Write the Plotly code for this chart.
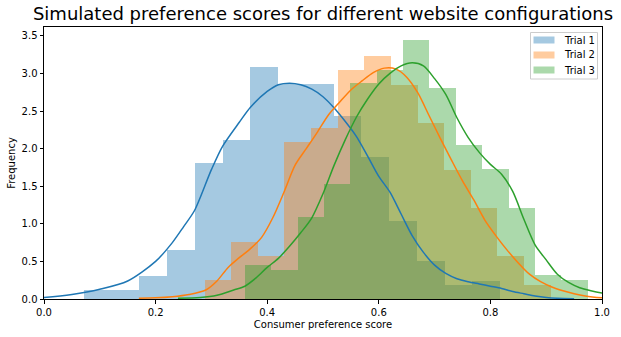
import plotly.graph_objects as go

# ---------------- data ----------------
trial_names = ["Trial 1", "Trial 2", "Trial 3"]

# histogram bin edges (density-normalised histograms)
t1_edges = [0.0717, 0.1214, 0.1711, 0.2208, 0.2705, 0.3202, 0.3699, 0.4196, 0.4693,
            0.5190, 0.5687, 0.6184, 0.6681, 0.7178, 0.7675, 0.8172]
t1_heights = [0.12, 0.12, 0.30, 0.65, 1.81, 2.12, 3.09, 2.86, 2.86, 2.43, 1.89, 1.04,
              0.50, 0.19, 0.24]

t2_edges = [0.2878, 0.3355, 0.3832, 0.4309, 0.4786, 0.5263, 0.5740, 0.6217, 0.6694,
            0.7171, 0.7648, 0.8125, 0.8602, 0.9079]
t2_heights = [0.25, 0.76, 0.576, 2.09, 2.28, 3.045, 3.23, 2.85, 2.34, 1.72, 1.21, 0.57, 0.19]

t3_edges = [0.3597, 0.4070, 0.4543, 0.5016, 0.5489, 0.5962, 0.6435, 0.6908, 0.7381,
            0.7854, 0.8327, 0.8800, 0.9273, 0.9746]
t3_heights = [0.45, 0.386, 1.09, 1.53, 2.87, 3.05, 3.44, 2.80, 2.05, 1.73, 1.21, 0.32, 0.25]

# kernel density estimate curves
t1_kde_x = [-0.01, 0.0, 0.05, 0.10, 0.15, 0.20, 0.23, 0.25, 0.27, 0.30, 0.32, 0.35, 0.37,
            0.40, 0.42, 0.44, 0.46, 0.48, 0.50, 0.52, 0.54, 0.56, 0.58, 0.60, 0.62, 0.64,
            0.66, 0.68, 0.70, 0.72, 0.74, 0.76, 0.78, 0.80, 0.82, 0.84, 0.86, 0.88, 0.90,
            0.92, 0.95]
t1_kde_y = [0.015, 0.02, 0.06, 0.13, 0.24, 0.50, 0.75, 0.96, 1.18, 1.72, 2.03, 2.35, 2.55,
            2.76, 2.85, 2.87, 2.85, 2.79, 2.69, 2.54, 2.36, 2.16, 1.90, 1.63, 1.42, 1.13,
            0.84, 0.62, 0.45, 0.34, 0.27, 0.23, 0.20, 0.17, 0.14, 0.10, 0.07, 0.04, 0.02,
            0.01, 0.004]

t2_kde_x = [0.17, 0.20, 0.23, 0.26, 0.29, 0.31, 0.33, 0.35, 0.37, 0.39, 0.41, 0.43, 0.45,
            0.47, 0.49, 0.51, 0.53, 0.55, 0.57, 0.59, 0.61, 0.63, 0.65, 0.67, 0.69, 0.71,
            0.73, 0.75, 0.77, 0.79, 0.81, 0.83, 0.85, 0.87, 0.89, 0.91, 0.93, 0.95, 0.97,
            1.00, 1.01]
t2_kde_y = [0.01, 0.015, 0.03, 0.06, 0.12, 0.24, 0.42, 0.55, 0.67, 0.82, 1.08, 1.42, 1.78,
            2.00, 2.22, 2.45, 2.62, 2.78, 2.90, 3.01, 3.07, 3.06, 2.95, 2.74, 2.44, 2.14,
            1.85, 1.57, 1.32, 1.05, 0.84, 0.65, 0.48, 0.33, 0.23, 0.16, 0.11, 0.07, 0.04,
            0.015, 0.01]

t3_kde_x = [0.24, 0.28, 0.31, 0.34, 0.36, 0.38, 0.40, 0.42, 0.44, 0.46, 0.48, 0.50, 0.52,
            0.54, 0.56, 0.58, 0.60, 0.62, 0.64, 0.66, 0.68, 0.70, 0.72, 0.74, 0.76, 0.78,
            0.80, 0.82, 0.84, 0.86, 0.88, 0.90, 0.92, 0.94, 0.96, 0.98, 1.00, 1.01]
t3_kde_y = [0.01, 0.02, 0.05, 0.12, 0.17, 0.28, 0.42, 0.54, 0.70, 0.88, 1.08, 1.40, 1.78,
            2.12, 2.42, 2.66, 2.86, 3.00, 3.10, 3.14, 3.10, 2.93, 2.72, 2.41, 2.15, 1.95,
            1.79, 1.66, 1.43, 1.06, 0.72, 0.52, 0.33, 0.22, 0.15, 0.11, 0.08, 0.07]

x_ticks = [0.0, 0.2, 0.4, 0.6, 0.8, 1.0]
y_ticks = [0.0, 0.5, 1.0, 1.5, 2.0, 2.5, 3.0, 3.5]

# ---------------- styling ----------------
line_colors = ["#1f77b4", "#ff7f0e", "#2ca02c"]
fill_colors = ["rgba(31,119,180,0.4)", "rgba(255,127,14,0.4)", "rgba(44,160,44,0.4)"]
FONT = "DejaVu Sans"
W, H = 621, 337
ML, MR, MT, MB = 44, 19, 27, 38
PW, PH = W - ML - MR, H - MT - MB


def px_to_paper_x(px):
    return (px - ML) / PW


def py_to_paper_y(py):
    return (H - MB - py) / PH


hists = [(t1_edges, t1_heights), (t2_edges, t2_heights), (t3_edges, t3_heights)]
kdes = [(t1_kde_x, t1_kde_y), (t2_kde_x, t2_kde_y), (t3_kde_x, t3_kde_y)]

fig = go.Figure()

for i, (edges, heights) in enumerate(hists):
    centers = [(edges[k] + edges[k + 1]) / 2 for k in range(len(heights))]
    widths = [edges[k + 1] - edges[k] for k in range(len(heights))]
    fig.add_trace(go.Bar(
        x=centers, y=heights, width=widths, name=trial_names[i],
        marker=dict(color=fill_colors[i], line=dict(width=0)),
        showlegend=False, hoverinfo="skip",
    ))

for i, (kx, ky) in enumerate(kdes):
    fig.add_trace(go.Scatter(
        x=kx, y=ky, mode="lines",
        line=dict(color=line_colors[i], width=1.5, shape="spline", smoothing=0.8),
        showlegend=False, hoverinfo="skip",
    ))

# ---- legend (matplotlib-style box) ----
shapes = [dict(
    type="rect", xref="paper", yref="paper",
    x0=px_to_paper_x(530.5), x1=px_to_paper_x(597.5),
    y0=py_to_paper_y(79), y1=py_to_paper_y(32.5),
    line=dict(color="#cccccc", width=1), fillcolor="rgba(255,255,255,0.8)", layer="above",
)]
annotations = []
row_py = [40, 55, 70]
for i, name in enumerate(trial_names):
    shapes.append(dict(
        type="rect", xref="paper", yref="paper",
        x0=px_to_paper_x(533.5), x1=px_to_paper_x(554.5),
        y0=py_to_paper_y(row_py[i] + 3.5), y1=py_to_paper_y(row_py[i] - 3.5),
        line=dict(width=0), fillcolor=fill_colors[i], layer="above",
    ))
    annotations.append(dict(
        text=name, xref="paper", yref="paper",
        x=px_to_paper_x(562), y=py_to_paper_y(row_py[i]),
        xanchor="left", yanchor="middle", showarrow=False,
        font=dict(family=FONT, size=10, color="black"),
    ))

fig.update_layout(
    width=W, height=H,
    margin=dict(l=ML, r=MR, t=MT, b=MB),
    plot_bgcolor="white", paper_bgcolor="white",
    barmode="overlay", bargap=0,
    showlegend=False,
    font=dict(family=FONT, size=10, color="black"),
    title=dict(
        text="Simulated preference scores for different website configurations",
        x=323 / W, xref="container", xanchor="center",
        y=1 - 14 / H, yref="container", yanchor="middle",
        font=dict(family=FONT, size=18, color="black"),
    ),
    shapes=shapes,
    annotations=annotations,
    xaxis=dict(
        range=[0, 1], tickvals=x_ticks, ticktext=[f"{v:.1f}" for v in x_ticks],
        showline=True, linecolor="black", linewidth=1, mirror=True,
        ticks="outside", ticklen=3.5, tickcolor="black", showgrid=False, zeroline=False,
        automargin=False,
        title=dict(text="Consumer preference score", standoff=4,
                   font=dict(family=FONT, size=10, color="black")),
        tickfont=dict(family=FONT, size=10, color="black"),
    ),
    yaxis=dict(
        range=[0, 3.617], tickvals=y_ticks, ticktext=[f"{v:.1f}" for v in y_ticks],
        showline=True, linecolor="black", linewidth=1, mirror=True,
        ticks="outside", ticklen=3.5, tickcolor="black", showgrid=False, zeroline=False,
        automargin=False,
        title=dict(text="Frequency", standoff=4,
                   font=dict(family=FONT, size=10, color="black")),
        tickfont=dict(family=FONT, size=10, color="black"),
    ),
)

fig.write_html("out.html")
